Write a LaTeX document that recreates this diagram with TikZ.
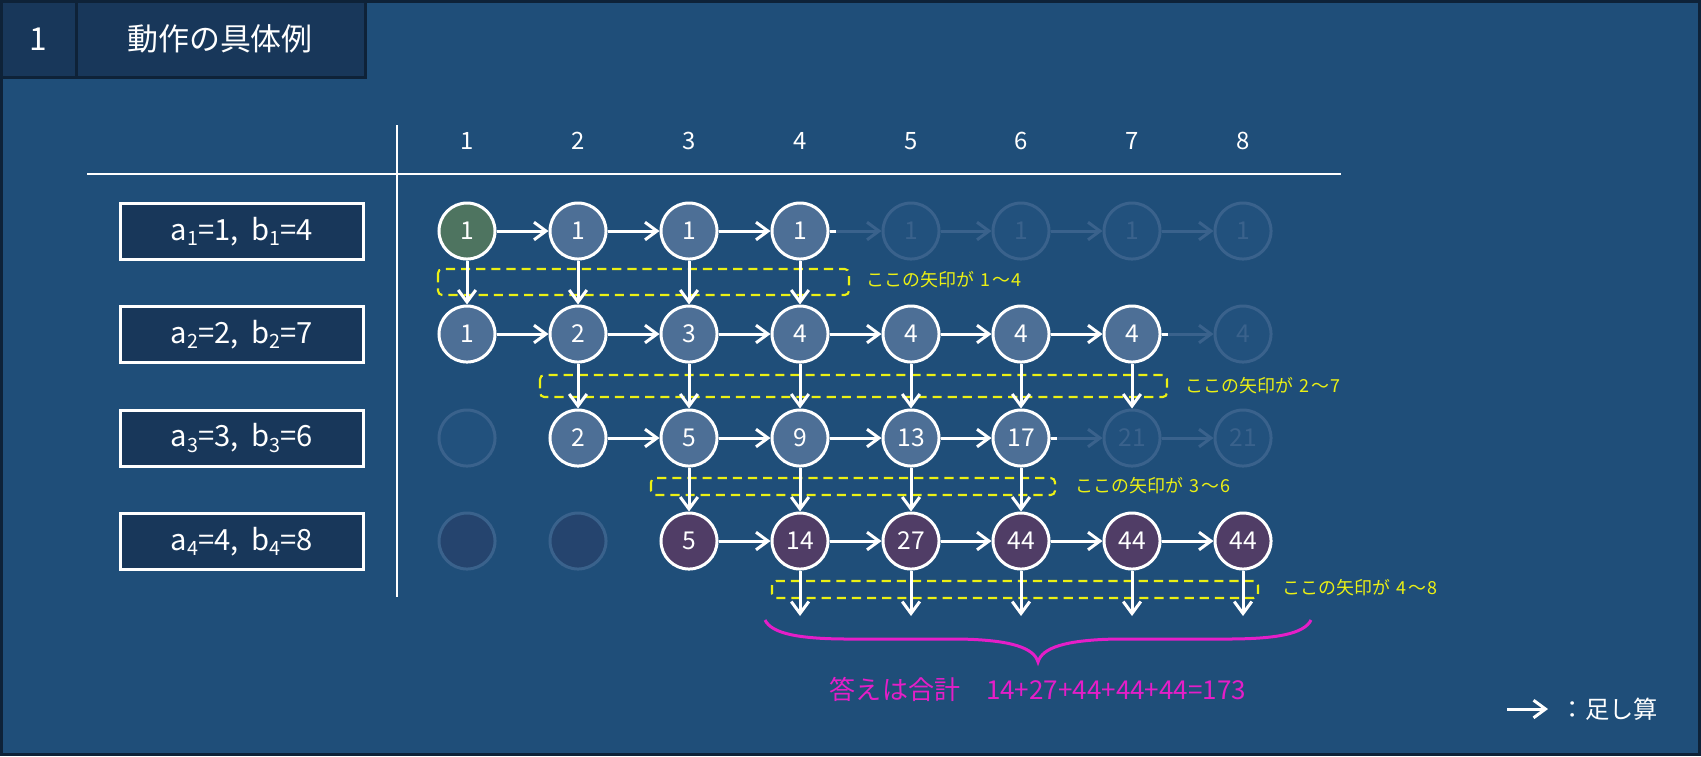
\documentclass[tikz,border=0pt]{standalone}
\usepackage{fontspec}
\setmainfont{Noto Sans CJK JP}
\usetikzlibrary{arrows.meta}
\definecolor{bgc}{RGB}{31,78,121}
\definecolor{hdr}{RGB}{24,55,90}
\definecolor{hdrline}{RGB}{14,34,56}
\definecolor{actc}{RGB}{77,111,150}
\definecolor{grnc}{RGB}{78,116,96}
\definecolor{purc}{RGB}{80,61,102}
\definecolor{fadl}{RGB}{58,98,140}
\definecolor{fadf}{RGB}{34,81,125}
\definecolor{fadp}{RGB}{37,68,110}
\definecolor{ylw}{RGB}{235,240,20}
\definecolor{pnk}{RGB}{228,30,200}
\newcommand{\sbs}[1]{\raisebox{-0.35ex}{\fontsize{5.6}{5.6}\selectfont #1}}
\newcommand{\rng}[2]{\hspace{0.35em}#1\hspace{0.08em}〜\hspace{0.08em}#2}
\begin{document}
\begin{tikzpicture}[x=0.01cm,y=-0.01cm,
  cir/.style={circle, draw=white, line width=0.03cm, minimum size=0.56cm, inner sep=0pt, text=white, font=\fontsize{7}{7}\selectfont},
  act/.style={cir, fill=actc},
  grn/.style={cir, fill=grnc},
  pur/.style={cir, fill=purc},
  fad/.style={cir, draw=fadl, fill=fadf, text=fadl},
  fadpur/.style={cir, draw=fadl, fill=fadp, text=fadl},
  arr/.style={-{Straight Barb[length=3.4pt,width=5pt]}, line width=0.03cm, white},
  fadarr/.style={arr, fadl},
  rowbox/.style={draw=white, line width=0.03cm, fill=hdr, minimum width=2.43cm, minimum height=0.56cm, inner sep=0pt, text=white, font=\fontsize{8.3}{8.3}\selectfont},
  colnum/.style={text=white, font=\fontsize{6.8}{6.8}\selectfont},
  dbox/.style={draw=ylw, dashed, dash pattern=on 2.6pt off 1.7pt, line width=0.6pt, rounded corners=1.2pt},
  ylab/.style={anchor=west, text=ylw, font=\fontsize{5.1}{5.1}\selectfont, inner sep=0pt},
  hcell/.style={draw=hdrline, line width=0.03cm, fill=hdr}
]
\useasboundingbox (0,0) rectangle (1701,756);
\fill[bgc] (0,0) rectangle (1701,756);
\draw[hdrline, line width=0.03cm] (1.5,1.5) rectangle (1699.5,754.5);
% header
\draw[hcell] (1.5,1.5) rectangle (76,77);
\draw[hcell] (76,1.5) rectangle (365,77);
\node[text=white, font=\fontsize{9}{9}\selectfont] (hnum) at (38,39) {1};
\node[text=white, font=\fontsize{8.8}{8.8}\selectfont] (htitle) at (220,39) {動作の具体例};
% rules
\draw[white, line width=0.02cm] (87,174) -- (1341,174);
\draw[white, line width=0.02cm] (397,125) -- (397,597);
% column numbers
\node[colnum] (h1) at (467,141) {1};
\node[colnum] (h2) at (578,141) {2};
\node[colnum] (h3) at (689,141) {3};
\node[colnum] (h4) at (800,141) {4};
\node[colnum] (h5) at (911,141) {5};
\node[colnum] (h6) at (1021,141) {6};
\node[colnum] (h7) at (1132,141) {7};
\node[colnum] (h8) at (1243,141) {8};
% row labels
\node[rowbox] (r1) at (242,231.5) {a\sbs{1}=1,\hspace{0.45em}b\sbs{1}=4};
\node[rowbox] (r2) at (242,334.5) {a\sbs{2}=2,\hspace{0.45em}b\sbs{2}=7};
\node[rowbox] (r3) at (242,438) {a\sbs{3}=3,\hspace{0.45em}b\sbs{3}=6};
\node[rowbox] (r4) at (242,541.5) {a\sbs{4}=4,\hspace{0.45em}b\sbs{4}=8};
% dashed boxes (behind arrows)
\draw[dbox] (438,269) rectangle (849,295);
\draw[dbox] (540,375) rectangle (1167,397);
\draw[dbox] (651,478) rectangle (1055,495);
\draw[dbox] (772,581) rectangle (1258,598);
% row 1
\node[grn] (c11) at (467,231) {1};
\node[act] (c12) at (578,231) {1};
\node[act] (c13) at (689,231) {1};
\node[act] (c14) at (800,231) {1};
\node[fad] (c15) at (911,231) {1};
\node[fad] (c16) at (1021,231) {1};
\node[fad] (c17) at (1132,231) {1};
\node[fad] (c18) at (1243,231) {1};
% row 2
\node[act] (c21) at (467,334) {1};
\node[act] (c22) at (578,334) {2};
\node[act] (c23) at (689,334) {3};
\node[act] (c24) at (800,334) {4};
\node[act] (c25) at (911,334) {4};
\node[act] (c26) at (1021,334) {4};
\node[act] (c27) at (1132,334) {4};
\node[fad] (c28) at (1243,334) {4};
% row 3
\node[fad] (c31) at (467,438) {};
\node[act] (c32) at (578,438) {2};
\node[act] (c33) at (689,438) {5};
\node[act] (c34) at (800,438) {9};
\node[act] (c35) at (911,438) {13};
\node[act] (c36) at (1021,438) {17};
\node[fad] (c37) at (1132,438) {21};
\node[fad] (c38) at (1243,438) {21};
% row 4
\node[fadpur] (c41) at (467,541) {};
\node[fadpur] (c42) at (578,541) {};
\node[pur] (c43) at (689,541) {5};
\node[pur] (c44) at (800,541) {14};
\node[pur] (c45) at (911,541) {27};
\node[pur] (c46) at (1021,541) {44};
\node[pur] (c47) at (1132,541) {44};
\node[pur] (c48) at (1243,541) {44};
% horizontal arrows
\draw[arr] (c11) -- (c12);
\draw[arr] (c12) -- (c13);
\draw[arr] (c13) -- (c14);
\draw[fadarr] (c14) -- (c15);
\draw[white, line width=0.03cm] (c14.east) -- ++(6,0);
\draw[fadarr] (c15) -- (c16);
\draw[fadarr] (c16) -- (c17);
\draw[fadarr] (c17) -- (c18);
\draw[arr] (c21) -- (c22);
\draw[arr] (c22) -- (c23);
\draw[arr] (c23) -- (c24);
\draw[arr] (c24) -- (c25);
\draw[arr] (c25) -- (c26);
\draw[arr] (c26) -- (c27);
\draw[fadarr] (c27) -- (c28);
\draw[white, line width=0.03cm] (c27.east) -- ++(6,0);
\draw[arr] (c32) -- (c33);
\draw[arr] (c33) -- (c34);
\draw[arr] (c34) -- (c35);
\draw[arr] (c35) -- (c36);
\draw[fadarr] (c36) -- (c37);
\draw[white, line width=0.03cm] (c36.east) -- ++(6,0);
\draw[fadarr] (c37) -- (c38);
\draw[arr] (c43) -- (c44);
\draw[arr] (c44) -- (c45);
\draw[arr] (c45) -- (c46);
\draw[arr] (c46) -- (c47);
\draw[arr] (c47) -- (c48);
% vertical arrows
\draw[arr] (c11) -- (c21);
\draw[arr] (c12) -- (c22);
\draw[arr] (c13) -- (c23);
\draw[arr] (c14) -- (c24);
\draw[arr] (c22) -- (c32);
\draw[arr] (c23) -- (c33);
\draw[arr] (c24) -- (c34);
\draw[arr] (c25) -- (c35);
\draw[arr] (c26) -- (c36);
\draw[arr] (c27) -- (c37);
\draw[arr] (c33) -- (c43);
\draw[arr] (c34) -- (c44);
\draw[arr] (c35) -- (c45);
\draw[arr] (c36) -- (c46);
\coordinate (d4) at (800,616);
\coordinate (d5) at (911,616);
\coordinate (d6) at (1021,616);
\coordinate (d7) at (1132,616);
\coordinate (d8) at (1243,616);
\draw[arr] (c44) -- (d4);
\draw[arr] (c45) -- (d5);
\draw[arr] (c46) -- (d6);
\draw[arr] (c47) -- (d7);
\draw[arr] (c48) -- (d8);
% yellow labels
\node[ylab] (l1) at (866,280) {ここの矢印が\rng{1}{4}};
\node[ylab] (l2) at (1185,386) {ここの矢印が\rng{2}{7}};
\node[ylab] (l3) at (1075,486) {ここの矢印が\rng{3}{6}};
\node[ylab] (l4) at (1282,588) {ここの矢印が\rng{4}{8}};
% brace
\draw[pnk, line width=0.03cm] (765,620) .. controls (772,634) and (800,639) .. (850,639) -- (960,639) .. controls (1012,640) and (1034,648) .. (1038,662) .. controls (1042,648) and (1064,640) .. (1116,639) -- (1226,639) .. controls (1276,639) and (1304,634) .. (1311,620);
\node[text=pnk, font=\fontsize{7.4}{7.4}\selectfont] (ans) at (1038,689) {答えは合計　14+27+44+44+44=173};
% legend
\coordinate (la) at (1507,709);
\coordinate (lb) at (1548,709);
\draw[arr] (la) -- (lb);
\node[anchor=west, text=white, font=\fontsize{6.9}{6.9}\selectfont, inner sep=0pt] (leg) at (1560,709) {：足し算};
\end{tikzpicture}
\end{document}
